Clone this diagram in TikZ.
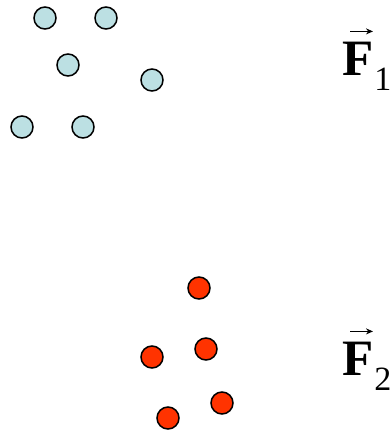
\documentclass[tikz,border=0pt]{standalone}
\usepackage{fontspec}
\setmainfont{Liberation Serif}
\usepackage{tikz}
\usetikzlibrary{arrows.meta}
\definecolor{PaleCyan}{HTML}{BCE0E3}
\definecolor{HotRed}{HTML}{FF3300}
% bold letter with a lowered subscript
\newcommand{\forcesub}[2]{%
  \textbf{#1}\hspace{1pt}\raisebox{-15pt}{\fontsize{34}{34}\selectfont #2}}

\begin{document}
\begin{tikzpicture}[
  x=1pt, y=-1pt,
  % particles
  part/.style={circle, draw=black, line width=1.5pt,
               minimum size=22pt, inner sep=0pt},
  grp1/.style={part, fill=PaleCyan},
  grp2/.style={part, fill=HotRed},
  % force labels
  flbl/.style={anchor=base west, inner sep=0pt, font=\fontsize{51}{54}\selectfont},
  vecarr/.style={-{Stealth[length=7pt,width=6pt]}, line width=1.2pt},
]
\useasboundingbox (0,0) rectangle (391,432);

%% ── First group ──────────────────────────────────────────────────────────
\node[grp1] (A1) at (45,18)  {};
\node[grp1] (A2) at (106,18) {};
\node[grp1] (A3) at (68,65)  {};
\node[grp1] (A4) at (152,80) {};
\node[grp1] (A5) at (22,127) {};
\node[grp1] (A6) at (83,127) {};

%% ── Second group ─────────────────────────────────────────────────────────
\node[grp2] (B1) at (199,288) {};
\node[grp2] (B2) at (152,357) {};
\node[grp2] (B3) at (206,349) {};
\node[grp2] (B4) at (168,418) {};
\node[grp2] (B5) at (222,403) {};

%% ── Labels ───────────────────────────────────────────────────────────────
\node[flbl] (F1) at (342,75)  {\forcesub{F}{1}};
\node[flbl] (F2) at (342,375) {\forcesub{F}{2}};

\draw[vecarr] ([xshift=8pt,yshift=10pt]F1.north west) -- ++(23,0);
\draw[vecarr] ([xshift=8pt,yshift=10pt]F2.north west) -- ++(23,0);

\end{tikzpicture}
\end{document}
